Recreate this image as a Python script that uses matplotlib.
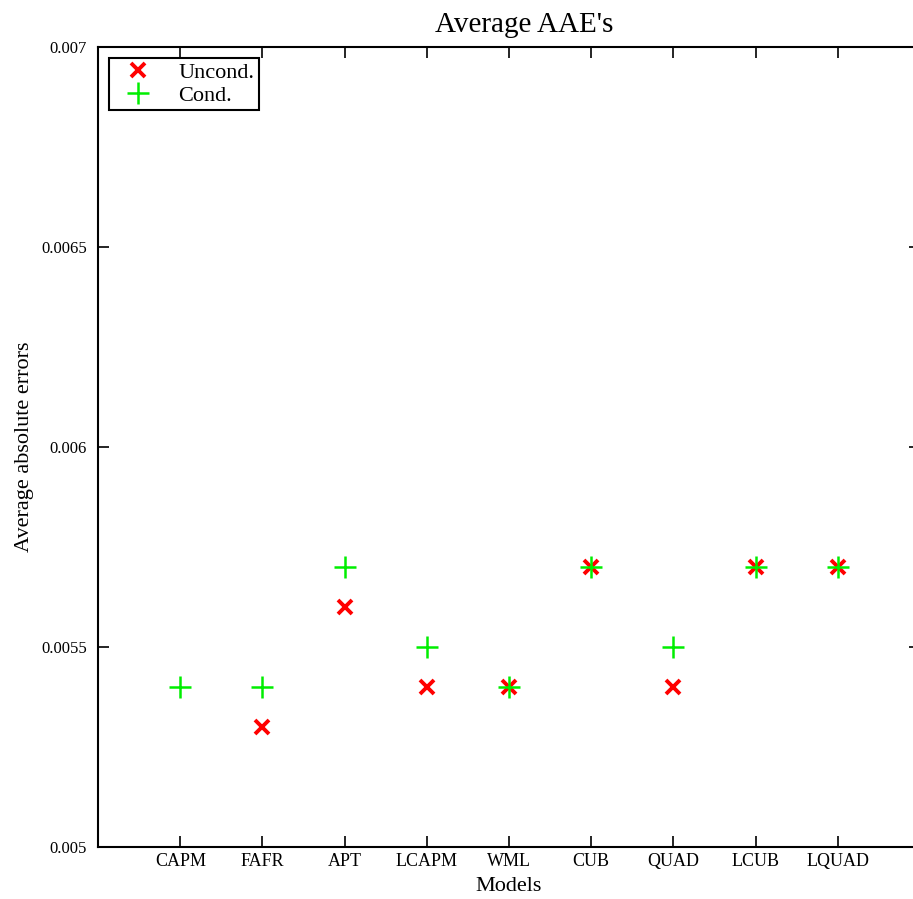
import numpy as np
import matplotlib
matplotlib.use("Agg")
import matplotlib.pyplot as plt

models = ["CAPM", "FAFR", "APT", "LCAPM", "WML", "CUB", "QUAD", "LCUB", "LQUAD"]
uncond = [np.nan, 0.0053, 0.0056, 0.0054, 0.0054, 0.0057, 0.0054, 0.0057, 0.0057]
cond = [0.0054, 0.0054, 0.0057, 0.0055, 0.0054, 0.0057, 0.0055, 0.0057, 0.0057]
yticks = [0.005, 0.0055, 0.006, 0.0065, 0.007]
ytick_labels = ["0.005", "0.0055", "0.006", "0.0065", "0.007"]

plt.rcParams['font.family'] = ['Liberation Serif', 'DejaVu Serif']

fig = plt.figure(figsize=(9.13, 8.99), dpi=100)
ax = fig.add_axes([0.1075, 0.0578, 0.9, 0.8899])

x = np.arange(1, len(models) + 1)
ax.plot(x, uncond, linestyle='none', marker='x', color='#ff0000',
        markersize=10, markeredgewidth=2.8, label='Uncond.')
ax.plot(x, cond, linestyle='none', marker='+', color='#00ee00',
        markersize=16, markeredgewidth=1.8, label='Cond.')

ax.set_xlim(0, 10)
ax.set_ylim(0.005, 0.007)
ax.set_xticks(x)
ax.set_xticklabels(models, fontsize=13)
ax.set_yticks(yticks)
ax.set_yticklabels(ytick_labels, fontsize=12)
ax.tick_params(axis='x', direction='in', top=True, length=8, width=1.2, pad=4)
ax.tick_params(axis='y', direction='in', right=True, length=8, width=1.2, pad=8)
for s in ax.spines.values():
    s.set_linewidth(1.5)

ax.set_xlabel("Models", fontsize=16, labelpad=5)
ax.set_ylabel("Average absolute errors", fontsize=16, labelpad=5)
ax.set_title("Average AAE's", fontsize=21, pad=11, x=0.519)

leg = ax.legend(loc='upper left', fontsize=16, frameon=True, fancybox=False,
                edgecolor='black', borderaxespad=0.5, handlelength=2.2,
                handletextpad=0.7, borderpad=0.2, labelspacing=0.1,
                bbox_to_anchor=(0.0, 1.0))
leg.get_frame().set_linewidth(1.5)
leg.get_frame().set_alpha(1)

fig.savefig("out.png", dpi=100)
